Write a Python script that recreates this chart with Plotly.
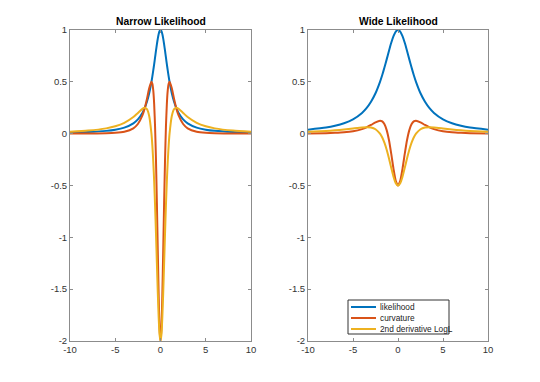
import plotly.graph_objects as go
from plotly.subplots import make_subplots

# ---- Narrow likelihood ----
x_narrow = [-10, -8, -6, -5, -4, -3, -2.5, -2, -1.75, -1.5, -1.25, -1, -0.9, -0.8, -0.7, -0.6,
            -0.5, -0.4, -0.3, -0.2, -0.1, 0, 0.1, 0.2, 0.3, 0.4, 0.5, 0.6, 0.7, 0.8, 0.9, 1,
            1.25, 1.5, 1.75, 2, 2.5, 3, 4, 5, 6, 8, 10]
narrow_likelihood = [0.0099, 0.0154, 0.027, 0.0385, 0.0588, 0.1, 0.138, 0.2, 0.246, 0.308, 0.390,
                     0.5, 0.552, 0.610, 0.671, 0.735, 0.8, 0.862, 0.917, 0.962, 0.990, 1.0,
                     0.990, 0.962, 0.917, 0.862, 0.8, 0.735, 0.671, 0.610, 0.552, 0.5,
                     0.390, 0.308, 0.246, 0.2, 0.138, 0.1, 0.0588, 0.0385, 0.027, 0.0154, 0.0099]
narrow_curvature = [0.0006, 0.0014, 0.0042, 0.0084, 0.0191, 0.052, 0.0932, 0.176, 0.244, 0.335, 0.438,
                    0.5, 0.482, 0.417, 0.284, 0.064, -0.256, -0.666, -1.127, -1.565, -1.883, -2.0,
                    -1.883, -1.565, -1.127, -0.666, -0.256, 0.064, 0.284, 0.417, 0.482, 0.5,
                    0.438, 0.335, 0.244, 0.176, 0.0932, 0.052, 0.0191, 0.0084, 0.0042, 0.0014, 0.0006]
narrow_d2logL = [0.0194, 0.0298, 0.0511, 0.071, 0.104, 0.16, 0.2, 0.24, 0.250, 0.237, 0.171,
                 0.0, -0.116, -0.268, -0.459, -0.692, -0.96, -1.249, -1.532, -1.775, -1.941, -2.0,
                 -1.941, -1.775, -1.532, -1.249, -0.96, -0.692, -0.459, -0.268, -0.116, 0.0,
                 0.171, 0.237, 0.250, 0.24, 0.2, 0.16, 0.104, 0.071, 0.0511, 0.0298, 0.0194]

# ---- Wide likelihood ----
x_wide = [-10, -8, -7, -6, -5, -4, -3.5, -3, -2.5, -2, -1.75, -1.5, -1.25, -1, -0.75, -0.5, -0.25, 0,
          0.25, 0.5, 0.75, 1, 1.25, 1.5, 1.75, 2, 2.5, 3, 3.5, 4, 5, 6, 7, 8, 10]
wide_likelihood = [0.0385, 0.0588, 0.0755, 0.1, 0.138, 0.2, 0.246, 0.308, 0.390, 0.5, 0.566, 0.64,
                   0.719, 0.8, 0.877, 0.941, 0.985, 1.0,
                   0.985, 0.941, 0.877, 0.8, 0.719, 0.64, 0.566, 0.5, 0.390, 0.308, 0.246, 0.2,
                   0.138, 0.1, 0.0755, 0.0588, 0.0385]
wide_curvature = [0.0021, 0.0048, 0.0077, 0.013, 0.0233, 0.044, 0.061, 0.0837, 0.1096, 0.125, 0.118,
                  0.090, 0.032, -0.064, -0.195, -0.339, -0.455, -0.5,
                  -0.455, -0.339, -0.195, -0.064, 0.032, 0.090, 0.118, 0.125, 0.1096, 0.0837, 0.061,
                  0.044, 0.0233, 0.013, 0.0077, 0.0048, 0.0021]
wide_d2logL = [0.0178, 0.026, 0.032, 0.04, 0.05, 0.06, 0.0625, 0.0592, 0.0428, 0.0, -0.0376,
               -0.0896, -0.158, -0.24, -0.330, -0.415, -0.477, -0.5,
               -0.477, -0.415, -0.330, -0.24, -0.158, -0.0896, -0.0376, 0.0, 0.0428, 0.0592, 0.0625,
               0.06, 0.05, 0.04, 0.032, 0.026, 0.0178]

series_names = ["likelihood", "curvature", "2nd derivative LogL"]
colors = ["#0072BD", "#D95319", "#EDB120"]
titles = ["Narrow Likelihood", "Wide Likelihood"]
x_ticks = [-10, -5, 0, 5, 10]
y_ticks = [-2, -1.5, -1, -0.5, 0, 0.5, 1]

W, H = 540, 382
OFF = 8  # page body margin offset
FONT = "Liberation Sans, Arial, Helvetica"


def px(v):
    return (v - OFF) / W


def py(v):
    return 1 - (v - OFF) / H


dom_x = [[px(70), px(251)], [px(308), px(488)]]
dom_y = [py(341), py(30)]

fig = make_subplots(rows=1, cols=2)

panels = [
    (x_narrow, [narrow_likelihood, narrow_curvature, narrow_d2logL], 1),
    (x_wide, [wide_likelihood, wide_curvature, wide_d2logL], 2),
]
for xs, ys_list, col in panels:
    for name, ys, c in zip(series_names, ys_list, colors):
        fig.add_trace(go.Scatter(x=xs, y=ys, mode="lines", name=name,
                                 line=dict(color=c, width=2, shape="spline", smoothing=0.6),
                                 showlegend=False), row=1, col=col)

axis_style = dict(showline=True, linecolor="#8c8c8c", linewidth=1, mirror="allticks",
                  ticks="inside", ticklen=3, tickcolor="#8c8c8c", showgrid=False,
                  zeroline=False, automargin=False,
                  tickfont=dict(family=FONT, size=9.5, color="#333333"))

fig.update_xaxes(range=[-10, 10], tickvals=x_ticks, ticktext=[str(v) for v in x_ticks], **axis_style)
fig.update_yaxes(range=[-2, 1], tickvals=y_ticks, ticktext=[("%g" % v) for v in y_ticks], **axis_style)

fig.update_layout(
    width=W, height=H, autosize=False,
    margin=dict(l=0, r=0, t=0, b=0, autoexpand=False),
    paper_bgcolor="white", plot_bgcolor="white",
    xaxis=dict(domain=dom_x[0]),
    xaxis2=dict(domain=dom_x[1]),
    yaxis=dict(domain=dom_y),
    yaxis2=dict(domain=dom_y),
    showlegend=False,
    font=dict(family=FONT),
)

for i, t in enumerate(titles):
    fig.add_annotation(text="<b>%s</b>" % t, x=(dom_x[i][0] + dom_x[i][1]) / 2, y=py(22),
                       xref="paper", yref="paper", xanchor="center", yanchor="middle",
                       showarrow=False, font=dict(family=FONT, size=10.3, color="black"))

# ---- legend box (inside the Wide panel, compact MATLAB style) ----
fig.add_shape(type="rect", xref="paper", yref="paper", x0=px(348), x1=px(449), y0=py(334), y1=py(300),
              line=dict(color="#333333", width=1), fillcolor="white", layer="above")
row_y = [307, 318, 329]
for name, c, ry in zip(series_names, colors, row_y):
    fig.add_shape(type="line", xref="paper", yref="paper", x0=px(351), x1=px(376), y0=py(ry), y1=py(ry),
                  line=dict(color=c, width=2), layer="above")
    fig.add_annotation(text=name, x=px(378), y=py(ry), xref="paper", yref="paper",
                       xanchor="left", yanchor="middle", showarrow=False,
                       font=dict(family=FONT, size=8.3, color="#222222"))

fig.write_html("out.html")
